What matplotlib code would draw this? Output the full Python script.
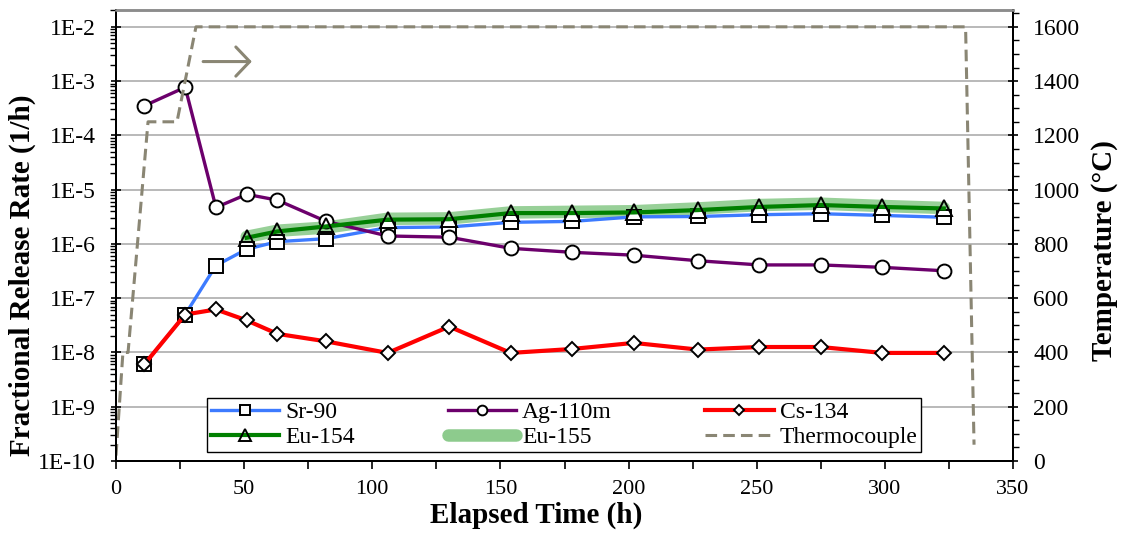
import numpy as np
import matplotlib
matplotlib.use("Agg")
import matplotlib.pyplot as plt
from matplotlib.ticker import FixedLocator, MultipleLocator, NullFormatter, LogLocator
from matplotlib.lines import Line2D

plt.rcParams["font.family"] = ["Liberation Serif", "DejaVu Serif"]

# elapsed time of each sample (h)
time_h = [11, 27, 39, 51, 63, 82, 106, 130, 154, 178, 202, 227, 251, 275, 299, 323]

# fractional release rates (1/h)
sr90 = [6.0e-9, 5.0e-8, 4.0e-7, 8.0e-7, 1.1e-6, 1.25e-6, 2.0e-6, 2.05e-6,
        2.5e-6, 2.6e-6, 3.15e-6, 3.2e-6, 3.45e-6, 3.6e-6, 3.35e-6, 3.1e-6]
ag110m = [3.5e-4, 7.7e-4, 4.7e-6, 8.2e-6, 6.4e-6, 2.6e-6, 1.4e-6, 1.33e-6,
          8.3e-7, 7.0e-7, 6.2e-7, 4.9e-7, 4.1e-7, 4.1e-7, 3.7e-7, 3.2e-7]
cs134 = [6.0e-9, 5.0e-8, 6.2e-8, 3.9e-8, 2.2e-8, 1.6e-8, 9.8e-9, 3.0e-8,
         9.8e-9, 1.16e-8, 1.5e-8, 1.13e-8, 1.26e-8, 1.26e-8, 9.8e-9, 9.8e-9]

# Eu isotopes only measured from 51 h on
eu_time = time_h[3:]
eu154 = [1.3e-6, 1.7e-6, 2.1e-6, 2.8e-6, 2.85e-6, 3.7e-6, 3.7e-6, 3.8e-6,
         4.2e-6, 4.8e-6, 5.2e-6, 4.8e-6, 4.5e-6]
eu155 = [1.35e-6, 1.75e-6, 2.0e-6, 2.9e-6, 2.95e-6, 3.8e-6, 3.9e-6, 4.0e-6,
         4.5e-6, 5.2e-6, 5.5e-6, 5.0e-6, 4.6e-6]

# thermocouple trace (h, degC)
tc_time = [0, 2.7, 4.7, 12.5, 23.8, 31.2, 331.5, 334.8]
tc_temp = [20, 400, 400, 1250, 1250, 1600, 1600, 60]

# arrow pointing to the temperature axis (h, degC)
arrow_from = (34, 1472)
arrow_to = (53, 1472)

tc_color = "#8a8674"
grid_color = "#a6a6a6"
band_color = "#8dcb8d"

fig = plt.figure(figsize=(11.23, 5.33), dpi=100)
ax = fig.add_axes([116 / 1123, 72 / 533, 897 / 1123, 451 / 533])
ax2 = ax.twinx()

t_top = 1662
ax.set_yscale("log")
ax.set_ylim(1e-10, 10 ** (-10 + 8 * t_top / 1600))
ax2.set_ylim(0, t_top)
ax.set_xlim(0, 350)

# data series
mk = dict(markeredgecolor="black", markeredgewidth=1.4)
ax.plot(eu_time, eu155, color=band_color, lw=9, alpha=0.9,
        solid_capstyle="round", zorder=2, label="Eu-155")
l_sr, = ax.plot(time_h, sr90, color="#3d7bff", lw=2.4, marker="s", ms=9.5,
                markerfacecolor="white", zorder=3, label="Sr-90", **mk)
l_ag, = ax.plot(time_h, ag110m, color="#6c006c", lw=2.4, marker="o", ms=10,
                markerfacecolor="white", zorder=3, label="Ag-110m", **mk)
l_eu4, = ax.plot(eu_time, eu154, color="#008000", lw=3.0, marker="^", ms=12,
                 markerfacecolor="none", zorder=4, label="Eu-154", **mk)
l_cs, = ax.plot(time_h, cs134, color="#ff0000", lw=3.0, marker="D", ms=7.5,
                markerfacecolor="white", zorder=5, label="Cs-134", **mk)

l_tc, = ax2.plot(tc_time, tc_temp, color=tc_color, lw=2.2, dashes=(3.8, 2.0),
                 label="Thermocouple")
ax2.annotate("", xy=arrow_to, xytext=arrow_from,
             arrowprops=dict(arrowstyle="->, head_length=1.0, head_width=1.05",
                             color=tc_color, lw=2.2, mutation_scale=10,
                             shrinkA=0, shrinkB=0))

# left axis ticks
decades = list(range(-10, -1))
ax.yaxis.set_major_locator(FixedLocator([10.0 ** k for k in decades]))
ax.set_yticklabels([f"1E{k}" for k in decades])
ax.yaxis.set_minor_locator(LogLocator(base=10, subs=np.arange(2, 10), numticks=20))
ax.yaxis.set_minor_formatter(NullFormatter())
ax.tick_params(axis="y", which="major", direction="inout", length=7, width=1.2,
               labelsize=17, pad=11)
ax.tick_params(axis="y", which="minor", direction="out", length=4, width=1.0)

# x axis ticks
ax.xaxis.set_major_locator(MultipleLocator(50))
ax.xaxis.set_minor_locator(MultipleLocator(25))
ax.tick_params(axis="x", which="both", direction="out", length=6, width=1.2,
               labelsize=16, pad=8)

# right axis ticks
ax2.yaxis.set_major_locator(MultipleLocator(200))
ax2.yaxis.set_minor_locator(MultipleLocator(50))
ax2.tick_params(axis="y", which="major", direction="inout", length=7, width=1.2,
                labelsize=17, pad=11)
ax2.tick_params(axis="y", which="minor", direction="out", length=4, width=1.0)

ax.grid(True, axis="y", which="major", color=grid_color, lw=1.1)
ax.set_axisbelow(True)

for a in (ax, ax2):
    for side in ("left", "right", "bottom"):
        a.spines[side].set_color("black")
        a.spines[side].set_linewidth(1.4)
    a.spines["top"].set_color("#8c8c8c")
    a.spines["top"].set_linewidth(1.8)

# legend (filled column by column)
eu155_handle = Line2D([], [], color=band_color, lw=9, solid_capstyle="round")
handles = [l_sr, l_eu4, l_ag, eu155_handle, l_cs, l_tc]
labels = ["Sr-90", "Eu-154", "Ag-110m", "Eu-155", "Cs-134", "Thermocouple"]
leg = ax2.legend(handles, labels, ncol=3, loc="lower left", mode="expand",
                 bbox_to_anchor=(91 / 897, 9 / 451, 714 / 897, 57 / 451),
                 fontsize=17, frameon=True, fancybox=False, edgecolor="black",
                 framealpha=1, borderpad=0.15, labelspacing=0.15,
                 handlelength=2.9, handletextpad=0.25, columnspacing=0.5,
                 markerscale=0.7, borderaxespad=0)
leg.get_frame().set_linewidth(1.0)

fig.text(22 / 1123, 1 - 275 / 533, "Fractional Release Rate (1/h)", rotation=90,
         ha="center", va="center", fontsize=21, fontweight="bold")
fig.text(1105 / 1123, 1 - 251 / 533, "Temperature (°C)", rotation=90,
         ha="center", va="center", fontsize=21, fontweight="bold")
fig.text(536 / 1123, 1 - 515 / 533, "Elapsed Time (h)",
         ha="center", va="center", fontsize=21, fontweight="bold")

fig.savefig("out.png", dpi=100)
